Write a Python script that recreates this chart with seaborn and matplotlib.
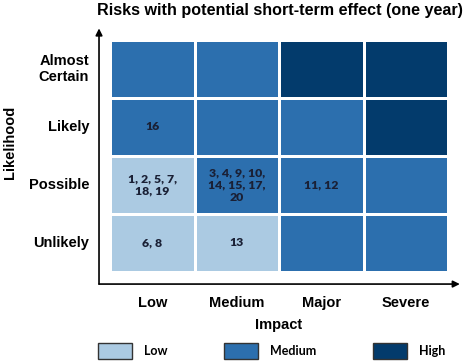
import numpy as np
import pandas as pd
import matplotlib
matplotlib.use('Agg')
import matplotlib.pyplot as plt
import seaborn as sns
from matplotlib.colors import ListedColormap
from matplotlib.patches import Patch

# data
likelihood = ['Almost\nCertain', 'Likely', 'Possible', 'Unlikely']
impact = ['Low', 'Medium', 'Major', 'Severe']
levels = ['Low', 'Medium', 'High']
# 0 = low, 1 = medium, 2 = high
risk_level = [
    [1, 1, 2, 2],
    [1, 1, 1, 2],
    [0, 1, 1, 1],
    [0, 0, 1, 1],
]
risk_ids = [
    ['', '', '', ''],
    ['16', '', '', ''],
    ['1, 2, 5, 7,\n18, 19', '3, 4, 9, 10,\n14, 15, 17,\n20', '11, 12', ''],
    ['6, 8', '13', '', ''],
]
level_colors = ['#abcae2', '#2c6fae', '#033b6c']

df = pd.DataFrame(risk_level, index=likelihood, columns=impact)
annot = np.array(risk_ids)

fig = plt.figure(figsize=(4.66, 3.61), dpi=100)
ax = fig.add_axes([110 / 466, 1 - 272 / 361, 338 / 466, 232 / 361])

sns.heatmap(df, ax=ax, cmap=ListedColormap(level_colors), vmin=-0.5, vmax=2.5,
            cbar=False, linewidths=2, linecolor='white',
            annot=annot, fmt='',
            annot_kws={'fontsize': 8.8, 'fontweight': 'heavy', 'color': '#1a2035',
                       'family': 'Lato', 'linespacing': 1.15})

ax.tick_params(length=0)
ax.tick_params(axis='y', pad=15)
ax.tick_params(axis='x', pad=17)
ax.set_yticklabels(likelihood, rotation=0, fontsize=10.5, fontweight='bold',
                   family='Liberation Sans', ha='right', linespacing=1.1)
ax.set_xticklabels(impact, rotation=0, fontsize=10.5, fontweight='bold', family='Liberation Sans')
ax.set_xlabel('Impact', fontsize=10.5, fontweight='bold', family='Liberation Sans', labelpad=6)
ax.set_ylabel('Likelihood', fontsize=10.5, fontweight='bold', family='Liberation Sans')
ax.yaxis.set_label_coords(-0.275, 0.56)

# axis arrows
arrow = dict(arrowstyle='-|>', color='black', lw=1.2, mutation_scale=10, shrinkA=0, shrinkB=0)
ax.annotate('', xy=(-0.0325, 1.05), xytext=(-0.0325, -0.052),
            xycoords='axes fraction', arrowprops=arrow, annotation_clip=False)
ax.annotate('', xy=(1.035, -0.052), xytext=(-0.0325, -0.052),
            xycoords='axes fraction', arrowprops=arrow, annotation_clip=False)

fig.text(0.600, 0.972, 'Risks with potential short-term effect (one year)', ha='center', va='center',
         fontsize=11.6, fontweight='bold', family='Liberation Sans')

handles = [Patch(facecolor=c, edgecolor='#333333', linewidth=1) for c in level_colors]
fig.legend(handles, levels, ncol=3, loc='center left', bbox_to_anchor=(98 / 466, 1 - 351 / 361),
           frameon=False, handlelength=2.7, handleheight=1.6, columnspacing=4.5, handletextpad=1.0,
           prop={'family': 'Lato', 'weight': 'bold', 'size': 9}, borderaxespad=0, borderpad=0)

fig.savefig('out.png', dpi=100)
